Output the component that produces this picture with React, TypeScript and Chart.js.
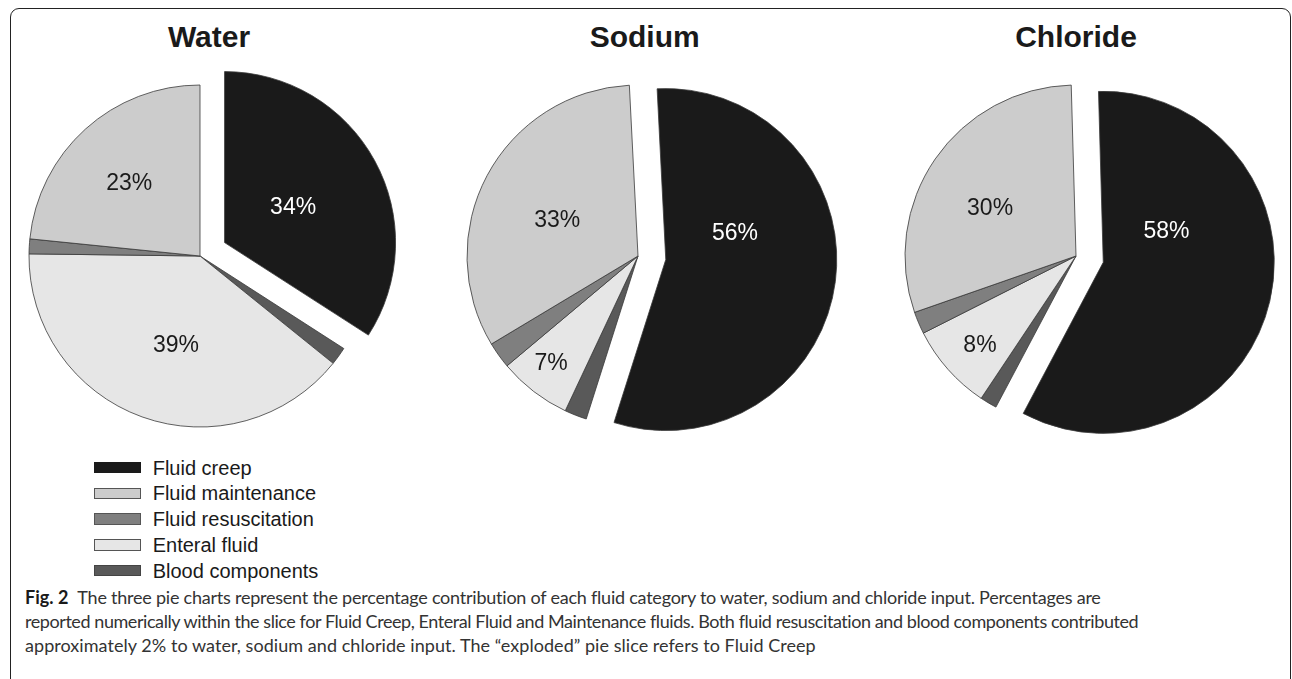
import React, { useEffect, useRef } from 'react';
import { Chart, registerables } from 'chart.js';

Chart.register(...registerables);

// ---- data (legend order) ----
const categories = ['Fluid creep', 'Fluid maintenance', 'Fluid resuscitation', 'Enteral fluid', 'Blood components'];
const waterValues = [34.1, 23.4, 1.4, 39.4, 1.7];
const sodiumValues = [55.7, 32.8, 2.5, 6.9, 2.1];
const chlorideValues = [58.2, 29.9, 2.1, 8.2, 1.6];
const panelTitles = ['Water', 'Sodium', 'Chloride'];
// clockwise order of slices starting at 12 o'clock (indices into categories)
const sliceOrder = [0, 4, 3, 2, 1];
const explodedCategory = 0;

// ---- styles ----
const COLORS = ['#1a1a1a', '#cccccc', '#7f7f7f', '#e6e6e6', '#595959'];
const LABEL_COLORS = ['#ffffff', '#1a1a1a', '#1a1a1a', '#1a1a1a', '#1a1a1a'];
const LEGEND_BORDERS = ['#1a1a1a', '#555555', '#555555', '#555555', '#444444'];
const RADIUS = 171;
const EXPLODE = 28;
const LABEL_FONT = 23;
const FONT_ARIAL = '"Liberation Sans", Arial, sans-serif';

type Spot = { cat: number; shift: number; frac: number };
const PANELS = [
  {
    title: panelTitles[0], values: waterValues, cx: 200, titleShift: 9, rotation: 0,
    spots: [
      { cat: 0, shift: 0.6, frac: 0.454 },
      { cat: 1, shift: -1.5, frac: 0.6 },
      { cat: 3, shift: -4.4, frac: 0.53 },
    ] as Spot[],
  },
  {
    title: panelTitles[1], values: sodiumValues, cx: 637.7, titleShift: 7, rotation: -2.9,
    spots: [
      { cat: 0, shift: -29.4, frac: 0.437 },
      { cat: 1, shift: -3.4, frac: 0.52 },
      { cat: 3, shift: 1.8, frac: 0.8 },
    ] as Spot[],
  },
  {
    title: panelTitles[2], values: chlorideValues, cx: 1076, titleShift: 0, rotation: -1.6,
    spots: [
      { cat: 0, shift: -40.2, frac: 0.415 },
      { cat: 1, shift: -4.6, frac: 0.58 },
      { cat: 3, shift: -0.8, frac: 0.76 },
    ] as Spot[],
  },
];

const CY = 256;
const CANVAS = 400;

function makeExplodePlugin(explodeSlice: number) {
  return {
    id: 'explodeSlice',
    beforeDatasetDraw(chart: any, args: any) {
      const ctx = chart.ctx;
      const meta = args.meta;
      meta.data.forEach((arc: any, i: number) => {
        ctx.save();
        if (i === explodeSlice) {
          const p = arc.getProps(['startAngle', 'endAngle'], true);
          const mid = (p.startAngle + p.endAngle) / 2;
          ctx.translate(Math.cos(mid) * EXPLODE, Math.sin(mid) * EXPLODE);
        }
        arc.draw(ctx, chart.chartArea);
        ctx.restore();
      });
      return false;
    },
  };
}

function makeLabelPlugin(spots: Spot[], explodeSlice: number) {
  return {
    id: 'sliceLabels',
    afterDatasetsDraw(chart: any) {
      const ctx = chart.ctx;
      const meta = chart.getDatasetMeta(0);
      const data = chart.data.datasets[0].data as number[];
      spots.forEach((s) => {
        const sliceIdx = sliceOrder.indexOf(s.cat);
        const arc = meta.data[sliceIdx];
        const p = arc.getProps(['x', 'y', 'startAngle', 'endAngle', 'outerRadius'], true);
        const mid = (p.startAngle + p.endAngle) / 2;
        let cx = p.x;
        let cy = p.y;
        if (sliceIdx === explodeSlice) {
          cx += Math.cos(mid) * EXPLODE;
          cy += Math.sin(mid) * EXPLODE;
        }
        const a = mid + (s.shift * Math.PI) / 180;
        const r = p.outerRadius * s.frac;
        const tx = cx + Math.cos(a) * r;
        const ty = cy + Math.sin(a) * r;
        ctx.save();
        ctx.fillStyle = LABEL_COLORS[s.cat];
        ctx.font = `${LABEL_FONT}px ${FONT_ARIAL}`;
        ctx.textAlign = 'center';
        ctx.textBaseline = 'alphabetic';
        ctx.fillText(Math.round(data[sliceIdx]) + '%', tx, ty + 0.358 * LABEL_FONT);
        ctx.restore();
      });
    },
  };
}

function PiePanel({ panel }: { panel: (typeof PANELS)[number] }) {
  const ref = useRef<HTMLCanvasElement | null>(null);
  useEffect(() => {
    if (!ref.current) return;
    const explodeSlice = sliceOrder.indexOf(explodedCategory);
    const chart = new Chart(ref.current, {
      type: 'pie',
      data: {
        labels: sliceOrder.map((i) => categories[i]),
        datasets: [
          {
            data: sliceOrder.map((i) => panel.values[i]),
            backgroundColor: sliceOrder.map((i) => COLORS[i]),
            borderColor: '#3a3a3a',
            borderWidth: 0.8,
          },
        ],
      },
      options: {
        responsive: false,
        animation: false,
        events: [],
        radius: RADIUS,
        rotation: panel.rotation,
        layout: { padding: 0 },
        plugins: { legend: { display: false }, tooltip: { enabled: false }, title: { display: false } },
      } as any,
      plugins: [makeExplodePlugin(explodeSlice), makeLabelPlugin(panel.spots, explodeSlice)],
    });
    return () => chart.destroy();
  }, [panel]);
  return (
    <>
      <div
        style={{
          position: 'absolute',
          left: panel.cx - 150 + panel.titleShift,
          top: 18.6,
          width: 300,
          textAlign: 'center',
          font: `bold 30px ${FONT_ARIAL}`,
          lineHeight: '36px',
          color: '#1a1a1a',
        }}
      >
        {panel.title}
      </div>
      <canvas
        ref={ref}
        width={CANVAS}
        height={CANVAS}
        style={{ position: 'absolute', left: panel.cx - CANVAS / 2, top: CY - CANVAS / 2, width: CANVAS, height: CANVAS }}
      />
    </>
  );
}

const LEGEND_TOP = 467.5;
const LEGEND_STEP = 25.75;

const captionLines = [
  'The three pie charts represent the percentage contribution of each fluid category to water, sodium and chloride input. Percentages are',
  'reported numerically within the slice for Fluid Creep, Enteral Fluid and Maintenance fluids. Both fluid resuscitation and blood components contributed',
  'approximately 2% to water, sodium and chloride input. The “exploded” pie slice refers to Fluid Creep',
];
const captionSpacing = [-0.23, -0.43, 0.05];

export default function App() {
  return (
    <div
      style={{
        position: 'absolute',
        left: 0,
        top: 0,
        width: 1292,
        height: 679,
        overflow: 'hidden',
        background: '#ffffff',
      }}
    >
      <div
        style={{
          position: 'absolute',
          left: 9.5,
          top: 7.5,
          width: 1281,
          height: 720,
          border: '1.5px solid #222',
          borderRadius: 9,
          boxSizing: 'border-box',
        }}
      />
      {PANELS.map((p) => (
        <PiePanel key={p.title} panel={p} />
      ))}
      {categories.map((c, i) => (
        <React.Fragment key={c}>
          <div
            style={{
              position: 'absolute',
              left: 94,
              top: LEGEND_TOP + i * LEGEND_STEP - 5.75,
              width: 47,
              height: 11.5,
              background: COLORS[i],
              border: `1px solid ${LEGEND_BORDERS[i]}`,
              boxSizing: 'border-box',
            }}
          />
          <div
            style={{
              position: 'absolute',
              left: 152.7,
              top: LEGEND_TOP + i * LEGEND_STEP - 12,
              font: `20px ${FONT_ARIAL}`,
              lineHeight: '24px',
              color: '#1a1a1a',
              whiteSpace: 'nowrap',
            }}
          >
            {c}
          </div>
        </React.Fragment>
      ))}
      <div
        style={{
          position: 'absolute',
          left: 25,
          top: 584.5,
          font: '18px Lato, sans-serif',
          lineHeight: '24.3px',
          color: '#333333',
          whiteSpace: 'nowrap',
        }}
      >
        {captionLines.map((line, i) => (
          <div key={i} style={{ letterSpacing: captionSpacing[i] }}>
            {i === 0 && (
              <span style={{ fontWeight: 'bold', color: '#1a1a1a', marginRight: 9, letterSpacing: 0 }}>Fig. 2</span>
            )}
            {line}
          </div>
        ))}
      </div>
    </div>
  );
}
